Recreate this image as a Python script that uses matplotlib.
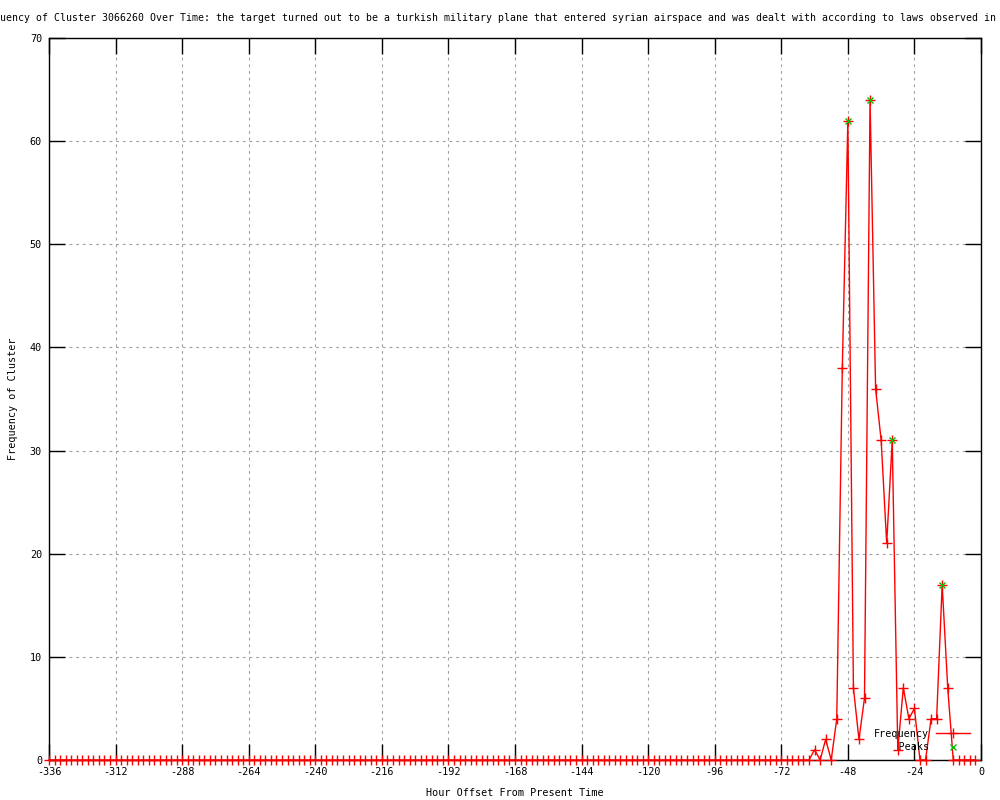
import numpy as np
import matplotlib
matplotlib.use("Agg")
import matplotlib.pyplot as plt

# hour offsets (every 2 hours) and cluster frequency
hours = list(range(-336, 0, 2))
freq = [0] * 138 + [
    1, 0, 2, 0, 4, 38, 62, 7, 2, 6,        # -60 .. -42
    64, 36, 31, 21, 31, 1, 7, 4, 5, 0,     # -40 .. -22
    0, 4, 4, 17, 7, 0, 0, 0, 0, 0,         # -20 .. -2
]

peak_hours = [-48, -40, -32, -14]
peak_freq = [62, 64, 31, 17]

x_ticks = list(range(-336, 1, 24))
y_ticks = list(range(0, 71, 10))

title = ("Frequency of Cluster 3066260 Over Time: the target turned out to be a "
         "turkish military plane that entered syrian airspace and was dealt with "
         "according to laws observed in such cases")

plt.rcParams['font.family'] = ['DejaVu Sans Mono']
plt.rcParams['font.size'] = 7.2
plt.rcParams['axes.unicode_minus'] = False

fig = plt.figure(figsize=(10, 8), dpi=100)
ax = fig.add_axes([0.049, 0.05, 0.932, 0.9025])

ax.plot(hours, freq, color='red', lw=1, marker='+', ms=6.5, mew=1,
        label='Frequency', clip_on=False, zorder=3)
ax.plot(peak_hours, peak_freq, ls='none', color='#00c000', marker='x', ms=5,
        mew=1, label='    Peaks', clip_on=False, zorder=4)

ax.set_xlim(-336, 0)
ax.set_ylim(0, 70)
ax.set_xticks(x_ticks)
ax.set_yticks(y_ticks)
ax.tick_params(direction='in', length=11.5, width=1, top=True, right=True,
               pad=5, labelsize=7.3)
ax.grid(True, color='#a0a0a0', lw=0.8, ls=(0, (2.5, 3.5)))
ax.set_axisbelow(True)
for s in ax.spines.values():
    s.set_linewidth(1)

ax.set_xlabel('Hour Offset From Present Time', fontsize=7.3)
ax.set_ylabel('Frequency of Cluster', fontsize=7.3)
ax.xaxis.set_label_coords(0.5, -0.039)
ax.yaxis.set_label_coords(-0.0333, 0.5)

ax.legend(loc='lower right', bbox_to_anchor=(0.988, 0.011), frameon=False,
          markerfirst=False, handlelength=3.3, handletextpad=0.7,
          labelspacing=0.3, borderpad=0, borderaxespad=0, fontsize=7.3)

# title is wider than the canvas, gnuplot clips it on both sides
fig.text(-0.024, 0.977, title, ha='left', va='center', fontsize=7.1)

fig.savefig('out.png', dpi=100)
